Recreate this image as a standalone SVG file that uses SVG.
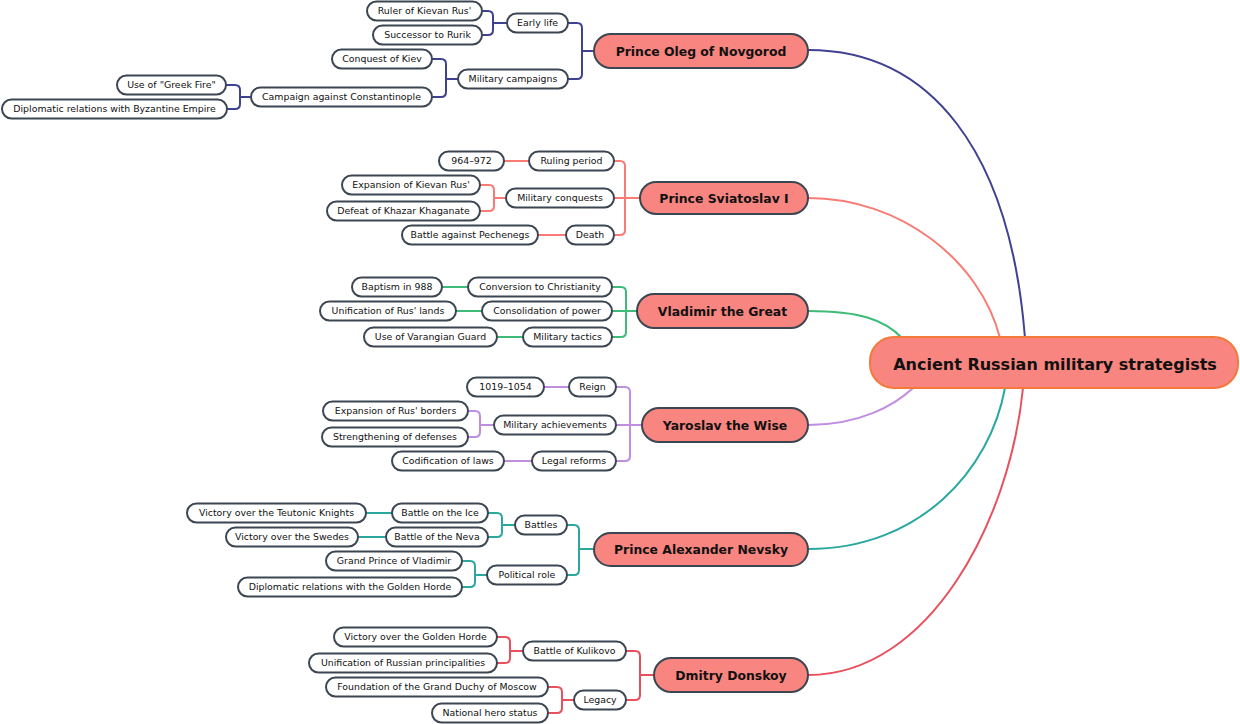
<svg xmlns="http://www.w3.org/2000/svg" width="1240" height="724" viewBox="0 0 1240 724">
<style>
.sub rect{fill:#fff;stroke:#3c4652;stroke-width:2}
.main rect{fill:#f8857f;stroke:#3c4652;stroke-width:2}
.root rect{fill:#f8857f;stroke:#f47a3c;stroke-width:2}
text{font-family:"DejaVu Sans","Liberation Sans",sans-serif;fill:#111;text-anchor:middle}
.sub text{font-size:9.4px}
.main text{font-size:12.4px;font-weight:bold}
.root text{font-size:16px;font-weight:bold}
#connectors path{fill:none;stroke-width:2}
.c1{stroke:#3f4191}.c2{stroke:#f87c75}.c3{stroke:#3dbb77}.c4{stroke:#c08ee0}.c5{stroke:#2aa8a0}.c6{stroke:#e8505e}
</style>
<g id="connectors">
<path class="c1" d="M808,50 C930,50 1010,150 1025,338"/>
<path class="c2" d="M808,198 C900,198 980,260 1000,338"/>
<path class="c3" d="M808,311 C860,311 885,320 902,338"/>
<path class="c4" d="M808,425 C860,425 895,405 913,388"/>
<path class="c5" d="M808,549 C920,549 990,470 1005,388"/>
<path class="c6" d="M808,675 C930,675 1010,520 1023,388"/>
<path class="c1" d="M594,51 H582 M568,23 H577 Q582,23 582,28 V74 Q582,79 577,79 H568"/>
<path class="c1" d="M507,23 H493 M482,11 H488 Q493,11 493,16 V30 Q493,35 488,35 H482"/>
<path class="c1" d="M458,79 H446 M432,59 H441 Q446,59 446,64 V92 Q446,97 441,97 H432"/>
<path class="c1" d="M251,97 H240 M226,85 H235 Q240,85 240,90 V104 Q240,109 235,109 H227"/>
<path class="c2" d="M640,198 H614 M614,161 H620 Q625,161 625,166 V230 Q625,235 620,235 H614"/>
<path class="c2" d="M504,161 H529 M538,235 H566"/>
<path class="c2" d="M506,198 H494 M480,185 H489 Q494,185 494,190 V206 Q494,211 489,211 H480"/>
<path class="c3" d="M637,311 H612 M612,287 H621 Q626,287 626,292 V332 Q626,337 621,337 H612"/>
<path class="c3" d="M442,287 H468 M456,311 H482 M497,337 H523"/>
<path class="c4" d="M642,425 H616 M616,387 H625 Q630,387 630,392 V456 Q630,461 625,461 H616"/>
<path class="c4" d="M544,387 H569 M504,461 H532"/>
<path class="c4" d="M494,425 H480 M468,411 H475 Q480,411 480,416 V432 Q480,437 475,437 H468"/>
<path class="c5" d="M594,549 H579 M567,525 H574 Q579,525 579,530 V570 Q579,575 574,575 H567"/>
<path class="c5" d="M515,525 H502 M488,513 H497 Q502,513 502,518 V532 Q502,537 497,537 H488"/>
<path class="c5" d="M487,575 H475 M462,561 H470 Q475,561 475,566 V582 Q475,587 470,587 H462"/>
<path class="c5" d="M366,513 H392 M358,537 H386"/>
<path class="c6" d="M654,675 H640 M626,651 H635 Q640,651 640,656 V695 Q640,700 635,700 H626"/>
<path class="c6" d="M523,651 H510 M497,637 H505 Q510,637 510,642 V658 Q510,663 505,663 H497"/>
<path class="c6" d="M574,700 H562 M548,687 H557 Q562,687 562,692 V708 Q562,713 557,713 H548"/>
</g>
<g id="root" class="root"><rect x="870" y="337" width="368" height="51" rx="24"/><text x="1055" y="370">Ancient Russian military strategists</text></g>
<g id="oleg" class="main"><rect x="594" y="34" width="214" height="34" rx="17"/><text x="701" y="56">Prince Oleg of Novgorod</text></g>
<g id="sviatoslav" class="main"><rect x="640" y="182" width="168" height="32" rx="16"/><text x="724" y="203">Prince Sviatoslav I</text></g>
<g id="vladimir" class="main"><rect x="637" y="294" width="171" height="34" rx="17"/><text x="722.5" y="316">Vladimir the Great</text></g>
<g id="yaroslav" class="main"><rect x="642" y="408" width="166" height="34" rx="17"/><text x="725" y="430">Yaroslav the Wise</text></g>
<g id="nevsky" class="main"><rect x="594" y="533" width="214" height="33" rx="16.5"/><text x="701" y="554">Prince Alexander Nevsky</text></g>
<g id="donskoy" class="main"><rect x="654" y="658" width="154" height="34" rx="17"/><text x="731" y="680">Dmitry Donskoy</text></g>

<g id="early-life" class="sub"><rect x="507" y="13.5" width="61" height="19" rx="9.5"/><text x="537.5" y="26.4">Early life</text></g>
<g id="military-campaigns" class="sub"><rect x="458" y="69.5" width="110" height="19" rx="9.5"/><text x="513" y="82.4">Military campaigns</text></g>
<g id="ruler" class="sub"><rect x="367" y="1.5" width="115" height="19" rx="9.5"/><text x="424.5" y="14.4">Ruler of Kievan Rus'</text></g>
<g id="successor" class="sub"><rect x="373" y="25.5" width="109" height="19" rx="9.5"/><text x="427.5" y="38.4">Successor to Rurik</text></g>
<g id="conquest-kiev" class="sub"><rect x="332" y="49.5" width="100" height="19" rx="9.5"/><text x="382" y="62.4">Conquest of Kiev</text></g>
<g id="campaign-const" class="sub"><rect x="251" y="87.5" width="181" height="19" rx="9.5"/><text x="341.5" y="100.4">Campaign against Constantinople</text></g>
<g id="greek-fire" class="sub"><rect x="117" y="75.5" width="109" height="19" rx="9.5"/><text x="171.5" y="88.4">Use of "Greek Fire"</text></g>
<g id="diplomatic-byz" class="sub"><rect x="2" y="99.5" width="225" height="19" rx="9.5"/><text x="114.5" y="112.4">Diplomatic relations with Byzantine Empire</text></g>

<g id="ruling-period" class="sub"><rect x="529" y="151.5" width="85" height="19" rx="9.5"/><text x="571.5" y="164.4">Ruling period</text></g>
<g id="y964" class="sub"><rect x="439" y="151.5" width="65" height="19" rx="9.5"/><text x="471.5" y="164.4">964–972</text></g>
<g id="military-conquests" class="sub"><rect x="506" y="188.5" width="108" height="19" rx="9.5"/><text x="560" y="201.4">Military conquests</text></g>
<g id="expansion-kievan" class="sub"><rect x="342" y="175.5" width="138" height="19" rx="9.5"/><text x="411" y="188.4">Expansion of Kievan Rus'</text></g>
<g id="defeat-khazar" class="sub"><rect x="327" y="201.5" width="153" height="19" rx="9.5"/><text x="403.5" y="214.4">Defeat of Khazar Khaganate</text></g>
<g id="death" class="sub"><rect x="566" y="225.5" width="48" height="19" rx="9.5"/><text x="590" y="238.4">Death</text></g>
<g id="pechenegs" class="sub"><rect x="402" y="225.5" width="136" height="19" rx="9.5"/><text x="470" y="238.4">Battle against Pechenegs</text></g>

<g id="conversion" class="sub"><rect x="468" y="277.5" width="144" height="19" rx="9.5"/><text x="540" y="290.4">Conversion to Christianity</text></g>
<g id="baptism" class="sub"><rect x="352" y="277.5" width="90" height="19" rx="9.5"/><text x="397" y="290.4">Baptism in 988</text></g>
<g id="consolidation" class="sub"><rect x="482" y="301.5" width="130" height="19" rx="9.5"/><text x="547" y="314.4">Consolidation of power</text></g>
<g id="unification-rus" class="sub"><rect x="320" y="301.5" width="136" height="19" rx="9.5"/><text x="388" y="314.4">Unification of Rus' lands</text></g>
<g id="military-tactics" class="sub"><rect x="523" y="327.5" width="89" height="19" rx="9.5"/><text x="567.5" y="340.4">Military tactics</text></g>
<g id="varangian" class="sub"><rect x="364" y="327.5" width="133" height="19" rx="9.5"/><text x="430.5" y="340.4">Use of Varangian Guard</text></g>

<g id="reign" class="sub"><rect x="569" y="377.5" width="47" height="19" rx="9.5"/><text x="592.5" y="390.4">Reign</text></g>
<g id="y1019" class="sub"><rect x="467" y="377.5" width="77" height="19" rx="9.5"/><text x="505.5" y="390.4">1019–1054</text></g>
<g id="military-achievements" class="sub"><rect x="494" y="415.5" width="122" height="19" rx="9.5"/><text x="555" y="428.4">Military achievements</text></g>
<g id="expansion-borders" class="sub"><rect x="323" y="401.5" width="145" height="19" rx="9.5"/><text x="395.5" y="414.4">Expansion of Rus' borders</text></g>
<g id="strengthening" class="sub"><rect x="322" y="427.5" width="146" height="19" rx="9.5"/><text x="395" y="440.4">Strengthening of defenses</text></g>
<g id="legal-reforms" class="sub"><rect x="532" y="451.5" width="84" height="19" rx="9.5"/><text x="574" y="464.4">Legal reforms</text></g>
<g id="codification" class="sub"><rect x="392" y="451.5" width="112" height="19" rx="9.5"/><text x="448" y="464.4">Codification of laws</text></g>

<g id="battles" class="sub"><rect x="515" y="515.5" width="52" height="19" rx="9.5"/><text x="541" y="528.4">Battles</text></g>
<g id="political-role" class="sub"><rect x="487" y="565.5" width="80" height="19" rx="9.5"/><text x="527" y="578.4">Political role</text></g>
<g id="battle-ice" class="sub"><rect x="392" y="503.5" width="96" height="19" rx="9.5"/><text x="440" y="516.4">Battle on the Ice</text></g>
<g id="battle-neva" class="sub"><rect x="386" y="527.5" width="102" height="19" rx="9.5"/><text x="437" y="540.4">Battle of the Neva</text></g>
<g id="teutonic" class="sub"><rect x="187" y="503.5" width="179" height="19" rx="9.5"/><text x="276.5" y="516.4">Victory over the Teutonic Knights</text></g>
<g id="swedes" class="sub"><rect x="226" y="527.5" width="132" height="19" rx="9.5"/><text x="292" y="540.4">Victory over the Swedes</text></g>
<g id="grand-prince" class="sub"><rect x="326" y="551.5" width="136" height="19" rx="9.5"/><text x="394" y="564.4">Grand Prince of Vladimir</text></g>
<g id="diplomatic-horde" class="sub"><rect x="238" y="577.5" width="224" height="19" rx="9.5"/><text x="350" y="590.4">Diplomatic relations with the Golden Horde</text></g>

<g id="kulikovo" class="sub"><rect x="523" y="641.5" width="103" height="19" rx="9.5"/><text x="574.5" y="654.4">Battle of Kulikovo</text></g>
<g id="legacy" class="sub"><rect x="574" y="690.5" width="52" height="19" rx="9.5"/><text x="600" y="703.4">Legacy</text></g>
<g id="victory-horde" class="sub"><rect x="334" y="627.5" width="163" height="19" rx="9.5"/><text x="415.5" y="640.4">Victory over the Golden Horde</text></g>
<g id="unification-russian" class="sub"><rect x="309" y="653.5" width="188" height="19" rx="9.5"/><text x="403" y="666.4">Unification of Russian principalities</text></g>
<g id="foundation" class="sub"><rect x="326" y="677.5" width="222" height="19" rx="9.5"/><text x="437" y="690.4">Foundation of the Grand Duchy of Moscow</text></g>
<g id="national-hero" class="sub"><rect x="432" y="703.5" width="116" height="19" rx="9.5"/><text x="490" y="716.4">National hero status</text></g>
</svg>
